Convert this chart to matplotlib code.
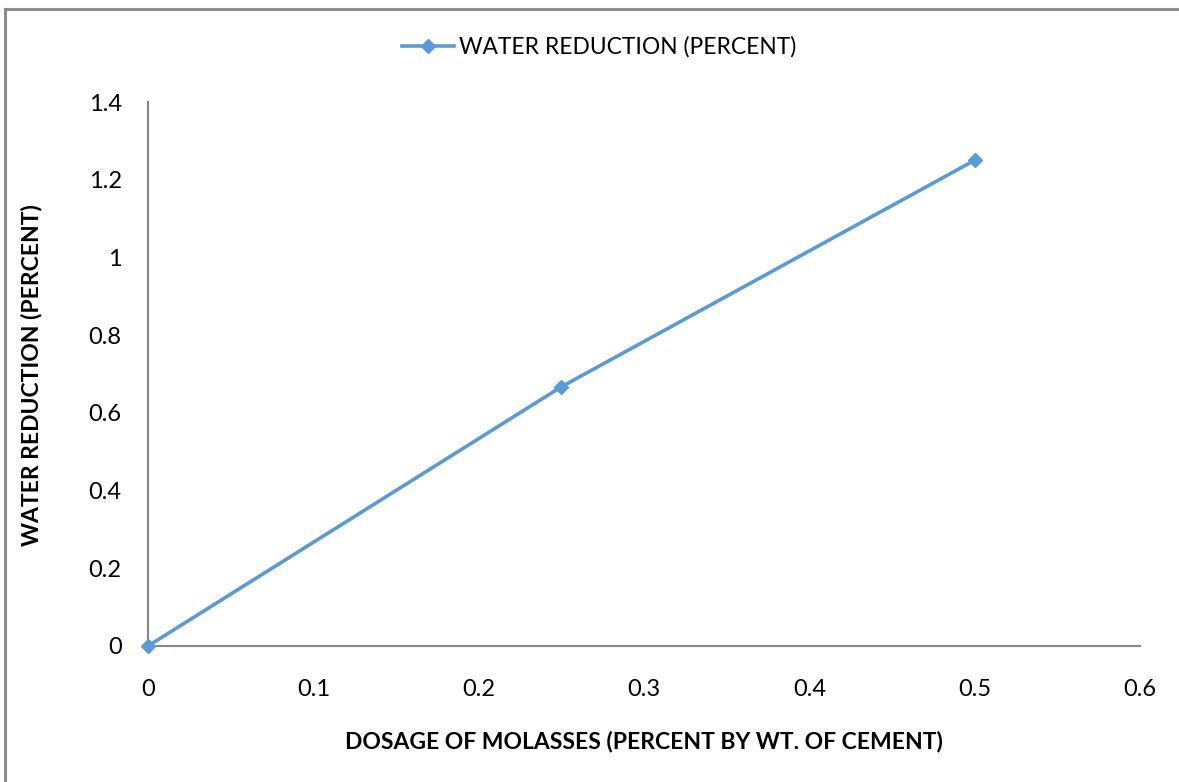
import matplotlib
matplotlib.use("Agg")
import matplotlib.pyplot as plt
from matplotlib.lines import Line2D

plt.rcParams['font.family'] = ['Lato', 'DejaVu Sans']

dosage = [0, 0.25, 0.5]
water_reduction = [0, 0.667, 1.25]
x_ticks = [0, 0.1, 0.2, 0.3, 0.4, 0.5, 0.6]
x_tick_labels = ['0', '0.1', '0.2', '0.3', '0.4', '0.5', '0.6']
y_ticks = [0, 0.2, 0.4, 0.6, 0.8, 1.0, 1.2, 1.4]
y_tick_labels = ['0', '0.2', '0.4', '0.6', '0.8', '1', '1.2', '1.4']
series_name = 'WATER REDUCTION (PERCENT)'

W, H = 1179, 782
fig = plt.figure(figsize=(W / 100, H / 100), dpi=100)
ax = fig.add_axes([148 / W, 1 - 646 / H, (1140 - 148) / W, (646 - 102) / H])

color = '#5B9BD5'
ax.plot(dosage, water_reduction, color=color, lw=2.6, marker='D', ms=7.5,
        markerfacecolor=color, markeredgecolor=color, clip_on=False, zorder=5)

ax.set_xlim(0, 0.6)
ax.set_ylim(0, 1.4)
ax.set_xticks(x_ticks)
ax.set_xticklabels(x_tick_labels)
ax.set_yticks(y_ticks)
ax.set_yticklabels(y_tick_labels)
ax.tick_params(length=0, labelsize=17, colors='black')
ax.tick_params(axis='x', pad=24)
ax.tick_params(axis='y', pad=19)

for side in ('top', 'right'):
    ax.spines[side].set_visible(False)
for side in ('left', 'bottom'):
    ax.spines[side].set_color('#888888')
    ax.spines[side].set_linewidth(1.5)

fig.text(644 / W, 1 - 741 / H, 'DOSAGE OF MOLASSES (PERCENT BY WT. OF CEMENT)',
         ha='center', va='center', fontsize=16.5, fontweight='bold')
fig.text(32 / W, 1 - 375 / H, series_name, rotation=90,
         ha='center', va='center', fontsize=16.5, fontweight='bold')

handle = Line2D([], [], color=color, lw=2.6, marker='D', ms=7.5)
fig.legend([handle], [series_name], loc='center', bbox_to_anchor=(599 / W, 1 - 47 / H),
           frameon=False, fontsize=16.4, handlelength=2.3, handletextpad=0.2)

# outer chart frame (top and left edges)
fig.add_artist(Line2D([5 / W, 1], [1 - 8.5 / H, 1 - 8.5 / H], color='#8c8c8c', lw=2.2,
                      transform=fig.transFigure))
fig.add_artist(Line2D([5 / W, 5 / W], [0, 1 - 8.5 / H], color='#8c8c8c', lw=2.2,
                      transform=fig.transFigure))

fig.savefig('out.png', dpi=100, facecolor='white')
